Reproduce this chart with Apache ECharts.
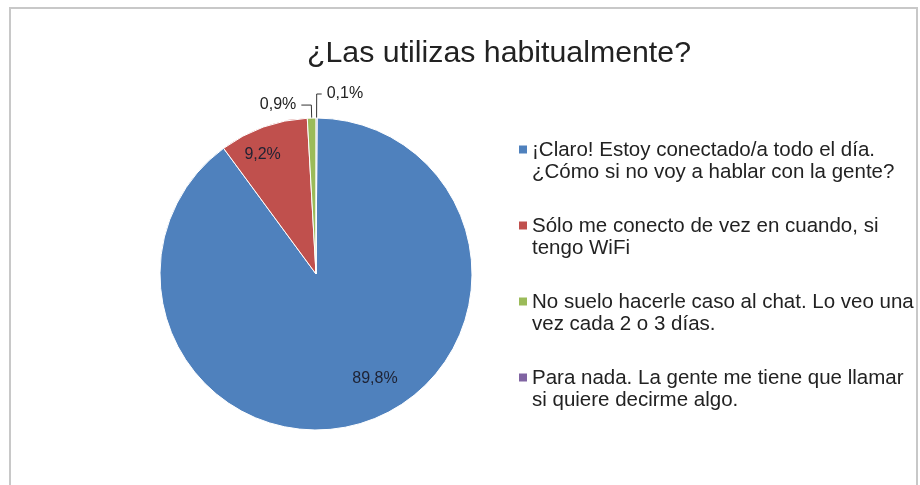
<!DOCTYPE html>
<html>
<head>
<meta charset="utf-8">
<script src="https://cdn.jsdelivr.net/npm/echarts@6/dist/echarts.min.js"></script>
<style>html,body{margin:0;padding:0;background:#fff;}#chart{width:920px;height:485px;}</style>
</head>
<body>
<div id="chart"></div>
<script>
const titleText = '¿Las utilizas habitualmente?';
const categories = [
  '¡Claro! Estoy conectado/a todo el día. ¿Cómo si no voy a hablar con la gente?',
  'Sólo me conecto de vez en cuando, si tengo WiFi',
  'No suelo hacerle caso al chat. Lo veo una vez cada 2 o 3 días.',
  'Para nada. La gente me tiene que llamar si quiere decirme algo.'
];
const legendLines = [
  ['¡Claro! Estoy conectado/a todo el día.', '¿Cómo si no voy a hablar con la gente?'],
  ['Sólo me conecto de vez en cuando, si', 'tengo WiFi'],
  ['No suelo hacerle caso al chat. Lo veo una', 'vez cada 2 o 3 días.'],
  ['Para nada. La gente me tiene que llamar', 'si quiere decirme algo.']
];
const values = [89.8, 9.2, 0.9, 0.1];
const colors = ['#4F81BD', '#C0504D', '#9BBB59', '#8064A2'];

const FONT = '"Liberation Sans", Arial, sans-serif';
const fmt = v => v.toFixed(1).replace('.', ',') + '%';

const insideLabel = { show: true, position: 'inside', fontSize: 16, color: '#1e2233', fontFamily: FONT, formatter: p => fmt(p.value) };
const outsideLabel = { show: true, position: 'outside', fontSize: 16, color: '#222', fontFamily: FONT, formatter: p => fmt(p.value) };

const dataItems = categories.map((name, i) => {
  const item = { name: name, value: values[i] };
  if (i < 2) {
    item.label = insideLabel;
    item.labelLine = { show: false };
  } else {
    item.label = outsideLabel;
    item.labelLine = i === 2
      ? { show: true, length: 13, length2: 10, lineStyle: { color: '#333', width: 1 } }
      : { show: true, length: 24, length2: 5, lineStyle: { color: '#333', width: 1 } };
  }
  return item;
});

const insideShift = { 0: { dx: 34, dy: 28 }, 1: { dx: -26, dy: -43 } };

// rich styles for legend squares (one per category colour)
const legendRich = {
  t1: { fontFamily: FONT, fontSize: 20.5, lineHeight: 23, color: '#222', padding: [9, 0, 0, 0], verticalAlign: 'bottom' },
  t: { fontFamily: FONT, fontSize: 20.5, lineHeight: 23, color: '#222' },
  g: { width: 5, height: 1 },
  sp: { width: 13, height: 1 }
};
colors.forEach((c, i) => {
  legendRich['s' + i] = { width: 8, height: 8, backgroundColor: c, verticalAlign: 'middle' };
});

const chart = echarts.init(document.getElementById('chart'), null, { renderer: 'canvas' });
chart.setOption({
  animation: false,
  color: colors,
  graphic: [{
    type: 'rect', silent: true,
    shape: { x: 10, y: 8, width: 907, height: 520 },
    style: { fill: 'none', stroke: '#c8c8c8', lineWidth: 2 }
  }],
  title: {
    text: titleText,
    left: 494, top: 34, textAlign: 'center',
    textStyle: { fontFamily: FONT, fontSize: 30.3, fontWeight: 'normal', color: '#222' }
  },
  legend: {
    orient: 'vertical',
    left: 509, top: 126,
    itemWidth: 0, itemHeight: 55,
    itemGap: 23,
    icon: 'none',
    selectedMode: false,
    data: categories,
    formatter: name => {
      const i = categories.indexOf(name);
      const L = legendLines[i];
      return '{s' + i + '|}{g|}{t1|' + L[0] + '}\n{sp|}{t|' + L[1] + '}';
    },
    textStyle: { fontFamily: FONT, fontSize: 20.5, lineHeight: 23, color: '#222', rich: legendRich }
  },
  series: [{
    type: 'pie',
    center: [316, 274],
    radius: [0, 156],
    startAngle: 89.6,
    clockwise: true,
    avoidLabelOverlap: false,
    itemStyle: { borderColor: '#fff', borderWidth: 1 },
    labelLayout: p => insideShift[p.dataIndex] || {},
    data: dataItems
  }]
});
</script>
</body>
</html>
